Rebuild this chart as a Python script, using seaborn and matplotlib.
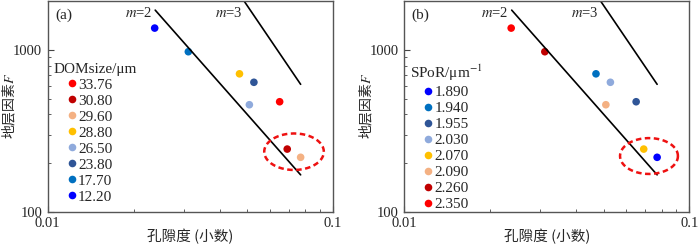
import numpy as np
import pandas as pd
import seaborn as sns
import matplotlib.pyplot as plt
from matplotlib.ticker import NullFormatter, LogLocator

# Set style
sns.set_style("ticks")
plt.rcParams['font.family'] = ['Liberation Serif', 'Noto Sans CJK SC', 'DejaVu Sans']
plt.rcParams['mathtext.fontset'] = 'stix'

# Samples (same samples in both panels, coloured by a different property)
porosity = [0.0237, 0.0311, 0.0470, 0.0528, 0.0509, 0.0650, 0.0691, 0.0770]
formation_factor = [1368, 977, 713, 632, 459, 479, 244, 217]
dom_size = ['12.20', '17.70', '28.80', '23.80', '26.50', '33.76', '30.80', '29.60']
spor = ['2.350', '2.260', '1.940', '2.030', '2.090', '1.955', '2.070', '1.890']

dom_order = ['33.76', '30.80', '29.60', '28.80', '26.50', '23.80', '17.70', '12.20']
dom_colors = ['#ff0000', '#c00000', '#f4b183', '#ffc000', '#8faadc', '#2f5597', '#0070c0', '#0000ff']
spor_order = ['1.890', '1.940', '1.955', '2.030', '2.070', '2.090', '2.260', '2.350']
spor_colors = ['#0000ff', '#0070c0', '#2f5597', '#8faadc', '#ffc000', '#f4b183', '#c00000', '#ff0000']

# Archie reference lines (end points)
m2_phi = [0.0238, 0.0770]
m2_F = [1767, 169]
m3_phi = [0.0487, 0.0770]
m3_F = [2020, 614]

# Highlight ellipses: centre (phi, F) and half-axes in decades
ellipse_a = (0.0730, 235, 0.1045, 0.113)
ellipse_b = (0.0721, 221, 0.1015, 0.111)

df = pd.DataFrame({'phi': porosity, 'F': formation_factor,
                   'DOMsize/μm': dom_size, 'SPoR/μm$^{-1}$': spor})

fig, axes = plt.subplots(1, 2, figsize=(7, 2.47), dpi=100)
fig.subplots_adjust(left=0.0683, right=0.985, bottom=0.143, top=0.997, wspace=0.25)

panels = [
    (axes[0], 'DOMsize/μm', dom_order, dom_colors, '(a)', ellipse_a),
    (axes[1], 'SPoR/μm$^{-1}$', spor_order, spor_colors, '(b)', ellipse_b),
]

for ax, hue, order, colors, tag, ell in panels:
    # reference lines
    ax.plot(m2_phi, m2_F, color='black', lw=1.2)
    ax.plot(m3_phi, m3_F, color='black', lw=1.2)

    sns.scatterplot(data=df, x='phi', y='F', hue=hue, hue_order=order,
                    palette=dict(zip(order, colors)), s=30, edgecolor='none',
                    ax=ax)

    # dashed ellipse around the two samples
    t = np.linspace(0, 2 * np.pi, 200)
    ex = 10 ** (np.log10(ell[0]) + ell[2] * np.cos(t))
    ey = 10 ** (np.log10(ell[1]) + ell[3] * np.sin(t))
    ax.plot(ex, ey, color='#ee1111', lw=1.8, ls=(0, (2.2, 1.4)))

    ax.set_xscale('log')
    ax.set_yscale('log')
    ax.set_xlim(0.01, 0.1)
    ax.set_ylim(100, 2020)
    ax.xaxis.set_minor_locator(LogLocator(subs=np.arange(2, 10)))
    ax.yaxis.set_minor_locator(LogLocator(subs=np.arange(2, 10)))
    ax.xaxis.set_minor_formatter(NullFormatter())
    ax.yaxis.set_minor_formatter(NullFormatter())
    ax.set_xticks([0.01, 0.1])
    ax.set_xticklabels(['0.01', '0.1'])
    ax.set_yticks([100, 1000])
    ax.set_yticklabels(['100', '1000'])
    ax.tick_params(which='both', direction='in', labelsize=10.5, pad=4,
                   color='#444444', top=False, right=False)
    ax.tick_params(which='major', length=4)
    ax.tick_params(which='minor', length=2.5)
    for sp in ax.spines.values():
        sp.set_color('#555555')
        sp.set_linewidth(1.0)

    ax.text(m2_phi[0] * 0.975, 1702, r'$m$=2', ha='right', va='center', fontsize=10.5)
    ax.text(0.0481, 1702, r'$m$=3', ha='right', va='center', fontsize=10.5)
    ax.text(0.025, 0.93, tag, transform=ax.transAxes, ha='left', va='center', fontsize=11)

    ax.set_xlabel('孔隙度 (小数)', fontsize=10.5, family='Noto Sans CJK SC')
    ax.set_ylabel('地层因素$F$', fontsize=10, family='Noto Sans CJK SC')
    ax.xaxis.set_label_coords(0.5, -0.08)
    ax.yaxis.set_label_coords(-0.104, 0.5)

    sns.move_legend(ax, 'upper left', bbox_to_anchor=(0.02, 0.706), frameon=False,
                    title=hue, fontsize=11, title_fontsize=11, alignment='left',
                    labelspacing=0.15, handlelength=2.4, handletextpad=-0.8,
                    borderaxespad=0, borderpad=0)

fig.savefig('out.png', dpi=100)
